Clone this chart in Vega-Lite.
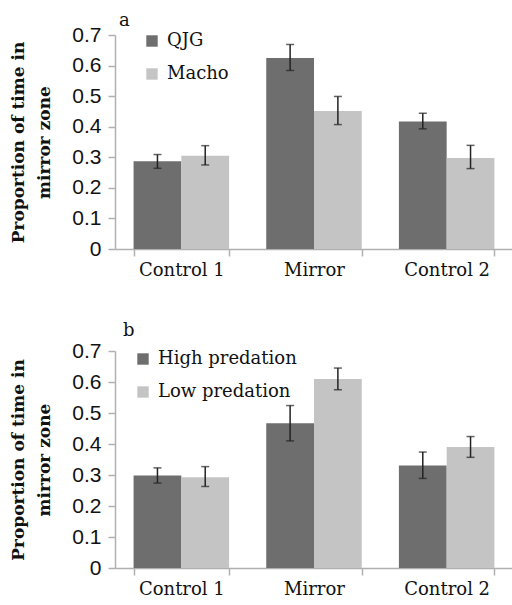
{
  "$schema": "https://vega.github.io/schema/vega-lite/v6.json",
  "padding": {"left": 9, "top": 12, "right": 0, "bottom": 0},
  "spacing": 43,
  "config": {
    "view": {"stroke": null},
    "axis": {"grid": false, "domainColor": "#b0b0b0", "tickColor": "#b0b0b0", "domainWidth": 1.5, "tickWidth": 1.5, "labelColor": "#111", "titleColor": "#111"},
    "title": {"font": "DejaVu Serif", "fontSize": 18, "fontWeight": "normal", "anchor": "start", "frame": "group", "color": "#111"},
    "legend": {"labelFont": "DejaVu Serif", "labelFontSize": 18, "labelColor": "#111", "symbolType": "square", "symbolSize": 130, "symbolStrokeWidth": 0, "rowPadding": 15, "labelOffset": 6, "padding": 0}
  },
  "datasets": {
    "a": [
      {"cat": "Control 1", "group": "QJG", "value": 0.287, "lo": 0.264, "hi": 0.309},
      {"cat": "Control 1", "group": "Macho", "value": 0.305, "lo": 0.275, "hi": 0.338},
      {"cat": "Mirror", "group": "QJG", "value": 0.625, "lo": 0.584, "hi": 0.669},
      {"cat": "Mirror", "group": "Macho", "value": 0.451, "lo": 0.407, "hi": 0.499},
      {"cat": "Control 2", "group": "QJG", "value": 0.417, "lo": 0.393, "hi": 0.444},
      {"cat": "Control 2", "group": "Macho", "value": 0.298, "lo": 0.263, "hi": 0.339}
    ],
    "b": [
      {"cat": "Control 1", "group": "High predation", "value": 0.298, "lo": 0.274, "hi": 0.323},
      {"cat": "Control 1", "group": "Low predation", "value": 0.293, "lo": 0.263, "hi": 0.327},
      {"cat": "Mirror", "group": "High predation", "value": 0.467, "lo": 0.41, "hi": 0.524},
      {"cat": "Mirror", "group": "Low predation", "value": 0.61, "lo": 0.575, "hi": 0.645},
      {"cat": "Control 2", "group": "High predation", "value": 0.331, "lo": 0.289, "hi": 0.374},
      {"cat": "Control 2", "group": "Low predation", "value": 0.39, "lo": 0.357, "hi": 0.424}
    ]
  },
  "resolve": {"scale": {"color": "independent", "xOffset": "independent"}, "legend": {"color": "independent"}},
  "vconcat": [
    {
      "title": {"text": "a", "dx": 4, "offset": -6},
      "width": 398,
      "height": 214,
      "data": {"name": "a"},
      "encoding": {
        "x": {"field": "cat", "type": "nominal", "sort": ["Control 1", "Mirror", "Control 2"],
              "scale": {"type": "band", "paddingInner": 0.28, "paddingOuter": 0.14},
              "axis": {"title": null, "labelAngle": 0, "labelFont": "DejaVu Serif", "labelFontSize": 18, "tickBand": "extent", "tickSize": 7, "labelPadding": 5}},
        "xOffset": {"field": "group", "type": "nominal", "sort": ["QJG", "Macho"], "scale": {"type": "band", "paddingInner": 0, "paddingOuter": 0}},
        "y": {"field": "value", "type": "quantitative", "scale": {"domain": [0, 0.7]},
              "axis": {"values": [0, 0.1, 0.2, 0.3, 0.4, 0.5, 0.6, 0.7], "labelExpr": "datum.value == 0 ? '0' : format(datum.value, '.1f')",
                       "labelFont": "Liberation Sans", "labelFontSize": 21, "tickSize": 7, "labelPadding": 7,
                       "title": ["Proportion of time in", "mirror zone"], "titleFont": "DejaVu Serif", "titleFontWeight": "bold", "titleFontSize": 17, "titleLineHeight": 26, "titlePadding": 18}}
      },
      "layer": [
        {"mark": {"type": "bar"},
         "encoding": {
           "color": {"field": "group", "type": "nominal", "sort": ["QJG", "Macho"],
                     "scale": {"domain": ["QJG", "Macho"], "range": ["#6e6e6e", "#c4c4c4"]},
                     "legend": {"title": null, "orient": "none", "legendX": 28, "legendY": -3}}}},
        {"mark": {"type": "rule", "color": "#222", "strokeWidth": 1.5},
         "encoding": {"y": {"field": "lo", "type": "quantitative"}, "y2": {"field": "hi"}}},
        {"mark": {"type": "tick", "color": "#222", "thickness": 1.5, "size": 8},
         "encoding": {"y": {"field": "lo", "type": "quantitative"}}},
        {"mark": {"type": "tick", "color": "#222", "thickness": 1.5, "size": 8},
         "encoding": {"y": {"field": "hi", "type": "quantitative"}}}
      ]
    },
    {
      "title": {"text": "b", "dx": 8, "offset": 0},
      "width": 398,
      "height": 217,
      "data": {"name": "b"},
      "encoding": {
        "x": {"field": "cat", "type": "nominal", "sort": ["Control 1", "Mirror", "Control 2"],
              "scale": {"type": "band", "paddingInner": 0.28, "paddingOuter": 0.14},
              "axis": {"title": null, "labelAngle": 0, "labelFont": "DejaVu Serif", "labelFontSize": 18, "tickBand": "extent", "tickSize": 7, "labelPadding": 5}},
        "xOffset": {"field": "group", "type": "nominal", "sort": ["High predation", "Low predation"], "scale": {"type": "band", "paddingInner": 0, "paddingOuter": 0}},
        "y": {"field": "value", "type": "quantitative", "scale": {"domain": [0, 0.7]},
              "axis": {"values": [0, 0.1, 0.2, 0.3, 0.4, 0.5, 0.6, 0.7], "labelExpr": "datum.value == 0 ? '0' : format(datum.value, '.1f')",
                       "labelFont": "Liberation Sans", "labelFontSize": 21, "tickSize": 7, "labelPadding": 7,
                       "title": ["Proportion of time in", "mirror zone"], "titleFont": "DejaVu Serif", "titleFontWeight": "bold", "titleFontSize": 17, "titleLineHeight": 26, "titlePadding": 18}}
      },
      "layer": [
        {"mark": {"type": "bar"},
         "encoding": {
           "color": {"field": "group", "type": "nominal", "sort": ["High predation", "Low predation"],
                     "scale": {"domain": ["High predation", "Low predation"], "range": ["#6e6e6e", "#c4c4c4"]},
                     "legend": {"title": null, "orient": "none", "legendX": 19, "legendY": -1}}}},
        {"mark": {"type": "rule", "color": "#222", "strokeWidth": 1.5},
         "encoding": {"y": {"field": "lo", "type": "quantitative"}, "y2": {"field": "hi"}}},
        {"mark": {"type": "tick", "color": "#222", "thickness": 1.5, "size": 8},
         "encoding": {"y": {"field": "lo", "type": "quantitative"}}},
        {"mark": {"type": "tick", "color": "#222", "thickness": 1.5, "size": 8},
         "encoding": {"y": {"field": "hi", "type": "quantitative"}}}
      ]
    }
  ]
}
